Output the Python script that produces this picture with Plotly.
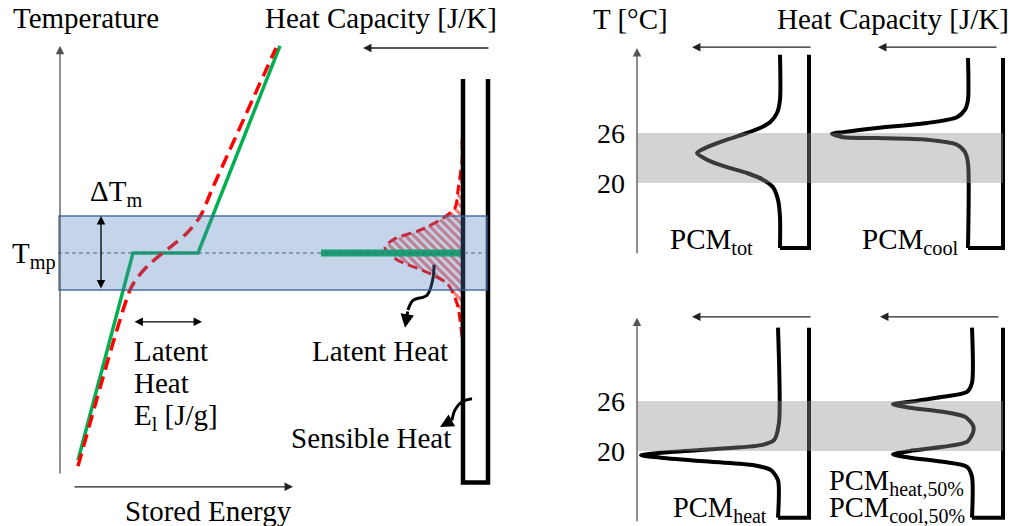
import plotly.graph_objects as go

W, H = 1011, 526
FONT = "Liberation Serif"

# ---------------- Panel A: temperature vs stored energy (arbitrary units, T_mp = 50)
ideal_E = [9, 36.5, 69, 110]
ideal_T = [22, 50, 50, 78]
real_E = [9, 35, 38.5, 44, 50, 57, 63.5, 70, 76.5, 108]
real_T = [21.2, 45, 46.6, 48.3, 49.7, 51.2, 52.7, 54.9, 58.9, 77.7]
T_mp = 50
band_T = [45, 55]
latent_E = [36.5, 71]

# ---------------- Panel B: heat capacity vs temperature (same temperature scale)
tubeB_C = [2.5, 2.5, 0, 0]
tubeB_T = [73.5, 19, 19, 73.5]
realB_C = [2.6, 2.6, 3.0, 3.3, 4.5, 6.8, 9.5, 10.3, 9.1, 6.1, 4.1, 3.5, 3.0, 2.6]
realB_T = [65.3, 62.6, 58.5, 56.1, 54.7, 53.1, 51.8, 50.7, 49.1, 47.4, 45.9, 44.6, 42.7, 38.6]
idealB_C = [16.7, 2.6]
latent_arrow_C = [5.4, 5.5, 6.1, 7.5, 8.0, 8.3]
latent_arrow_T = [48.4, 46.6, 44.3, 43.6, 42.3, 39.9]
sens_arrow_C = [1.6, 2.6, 3.3, 3.6, 4.8]
sens_arrow_T = [30.3, 29.9, 28.8, 27.4, 26.5]

# ---------------- Right panels: heat capacity profiles, T in degC
tot_T = [35.4, 30.0, 28.4, 27.3, 26.6, 26.0, 25.2, 24.3, 23.6, 22.8, 21.9, 21.2, 20.4, 19.5, 18.0, 15.9, 12.2]
tot_C = [2.9, 2.9, 3.2, 3.9, 4.9, 6.2, 8.2, 10.2, 11.2, 10.2, 8.2, 6.2, 4.6, 3.6, 3.1, 2.9, 2.9]
cool_T = [35.0, 30.0, 28.8, 27.9, 27.2, 26.6, 26.1, 25.9, 25.5, 25.4, 25.2, 24.6, 23.7, 22.4, 12.2]
cool_C = [3.5, 3.5, 3.8, 4.6, 7.6, 12.6, 16.0, 17.1, 16.0, 12.6, 7.6, 4.6, 3.8, 3.5, 3.5]
heat_T = [34.8, 23.4, 21.3, 20.7, 20.2, 19.8, 19.5, 19.2, 18.7, 18.3, 17.7, 16.5, 12.0]
heat_C = [3.1, 3.0, 3.5, 4.8, 9.8, 14.8, 16.8, 14.8, 9.8, 5.5, 3.8, 3.1, 3.1]
half_T = [34.8, 28.2, 27.1, 26.5, 25.9, 25.6, 25.2, 24.7, 24.1, 23.1, 22.2, 21.1, 20.5, 20.0, 19.6, 19.2,
          18.7, 18.1, 16.9, 12.0]
half_C = [3.1, 3.1, 3.6, 6.0, 9.3, 11.0, 9.3, 6.0, 3.8, 3.0, 3.0, 3.6, 6.0, 9.3, 11.0, 9.3, 6.0, 3.6, 3.1, 3.1]
melt_range = [20, 26]
tick_vals = [20, 26]

GREEN = "#00b050"
RED = "#ff0000"

fig = go.Figure()

# Panel A
fig.add_trace(go.Scatter(x=ideal_E, y=ideal_T, mode="lines", xaxis="x", yaxis="y",
                         line=dict(color=GREEN, width=3.5)))
fig.add_trace(go.Scatter(x=real_E, y=real_T, mode="lines", xaxis="x", yaxis="y",
                         line=dict(color=RED, width=3.5, dash="13px,7px", shape="spline", smoothing=0.8)))

# Panel B
fill_x = realB_C + [2.5, 2.5]
fill_y = realB_T + [realB_T[-1], realB_T[0]]
fig.add_trace(go.Scatter(x=fill_x, y=fill_y, mode="lines", xaxis="x2", yaxis="y", fill="toself",
                         fillcolor="rgba(0,0,0,0)", line=dict(width=0),
                         fillpattern=dict(shape="\\", fgcolor="#ee0000", bgcolor="rgba(0,0,0,0)",
                                          size=6, solidity=0.55)))
fig.add_trace(go.Scatter(x=realB_C, y=realB_T, mode="lines", xaxis="x2", yaxis="y",
                         line=dict(color=RED, width=3, dash="10px,5px", shape="spline", smoothing=0.8)))
fig.add_trace(go.Scatter(x=idealB_C, y=[T_mp, T_mp], mode="lines", xaxis="x2", yaxis="y",
                         line=dict(color=GREEN, width=7)))
fig.add_trace(go.Scatter(x=tubeB_C, y=tubeB_T, mode="lines", xaxis="x2", yaxis="y",
                         line=dict(color="black", width=4.5)))
fig.add_trace(go.Scatter(x=latent_arrow_C[:-1], y=latent_arrow_T[:-1], mode="lines", xaxis="x2", yaxis="y",
                         line=dict(color="black", width=3, shape="spline")))
fig.add_trace(go.Scatter(x=sens_arrow_C[:-1], y=sens_arrow_T[:-1], mode="lines", xaxis="x2", yaxis="y",
                         line=dict(color="black", width=3, shape="spline")))

# Right panels: tubes
def tube(Cp, Tp, xa, ya):
    fig.add_trace(go.Scatter(x=Cp, y=Tp, mode="lines", xaxis=xa, yaxis=ya,
                             line=dict(color="black", width=4, shape="spline", smoothing=0.7)))
    fig.add_trace(go.Scatter(x=[Cp[-1], 0, 0], y=[Tp[-1], Tp[-1], Tp[0]], mode="lines", xaxis=xa, yaxis=ya,
                             line=dict(color="black", width=4)))

tube(tot_C, tot_T, "x3", "y3")
tube(cool_C, cool_T, "x4", "y3")
tube(heat_C, heat_T, "x3", "y4")
tube(half_C, half_T, "x4", "y4")

def px(x):
    return x / W

def py(y):
    return 1 - y / H

shapes = [
    dict(type="line", xref="paper", yref="y", x0=px(58), x1=px(487), y0=T_mp, y1=T_mp,
         line=dict(color="#44546a", width=1, dash="4px,3px"), layer="above"),
    dict(type="rect", xref="paper", yref="y", x0=px(59), x1=px(487), y0=band_T[0], y1=band_T[1],
         fillcolor="rgba(79,129,189,0.33)", line=dict(color="rgba(60,100,155,0.9)", width=1.3), layer="above"),
    dict(type="rect", xref="paper", yref="y3", x0=px(637), x1=px(1003), y0=melt_range[0], y1=melt_range[1],
         fillcolor="rgba(146,146,146,0.4)", line=dict(width=0), layer="above"),
    dict(type="rect", xref="paper", yref="y4", x0=px(637), x1=px(1003), y0=melt_range[0], y1=melt_range[1],
         fillcolor="rgba(146,146,146,0.4)", line=dict(width=0), layer="above"),
]

ann = []

def arrow(x, y, ax, ay, xref, yref, both=False, width=1.3, size=1.3, color="black", head=2):
    ann.append(dict(x=x, y=y, ax=ax, ay=ay, xref=xref, yref=yref, axref=xref, ayref=yref,
                    showarrow=True, text="", arrowhead=head, arrowsize=size, arrowwidth=width,
                    arrowcolor=color, arrowside="end+start" if both else "end",
                    startarrowhead=head, startarrowsize=size, standoff=0, startstandoff=0))

# axis arrows
arrow(0, 78, 0, 20, "x", "y", color="#555555", width=1.3)
arrow(116.5, 18.4, 6.5, 18.4, "x", "y", color="#222222", width=1.3)
arrow(12.5, 77.7, -0.2, 77.7, "x2", "y", color="#222222", width=1.3)
arrow(20.5, band_T[1], 20.5, band_T[0], "x", "y", both=True, width=1.3)
arrow(latent_E[1], 40.7, latent_E[0], 40.7, "x", "y", both=True, width=1.3)
arrow(latent_arrow_C[-1], latent_arrow_T[-1], latent_arrow_C[-2], latent_arrow_T[-2], "x2", "y",
      width=3, size=0.9)
arrow(sens_arrow_C[-1], sens_arrow_T[-1], sens_arrow_C[-2], sens_arrow_T[-2], "x2", "y",
      width=3, size=0.9)
arrow(17.2, 36.2, 17.2, 11.4, "x3", "y3", color="#555555")
arrow(17.2, 36.0, 17.2, 11.4, "x3", "y4", color="#555555")
arrow(11.7, 36.3, -0.3, 36.3, "x3", "y3", color="#222222")
arrow(12.5, 36.3, 0.5, 36.3, "x4", "y3", color="#222222")
arrow(11.7, 36.1, -0.3, 36.1, "x3", "y4", color="#222222")
arrow(12.3, 36.1, 0.3, 36.1, "x4", "y4", color="#222222")

def txt(s, x, y, size=29, xanchor="left"):
    ann.append(dict(text=s, x=px(x), y=py(y), xref="paper", yref="paper", showarrow=False,
                    xanchor=xanchor, yanchor="middle", font=dict(family=FONT, size=size, color="black")))

txt("Temperature", 11, 18)
txt("Heat Capacity [J/K]", 263, 18)
txt("ΔT<sub>m</sub>", 88, 193)
txt("T<sub>mp</sub>", 10, 256)
txt("Latent", 132, 351)
txt("Heat", 132, 383)
txt("E<sub>l</sub> [J/g]", 132, 417)
txt("Stored Energy", 123, 511)
txt("Latent Heat", 310, 351)
txt("Sensible Heat", 289, 438)
txt("T [°C]", 591, 19)
txt("Heat Capacity [J/K]", 775, 19)
txt("PCM<sub>tot</sub>", 668, 241)
txt("PCM<sub>cool</sub>", 860, 241)
txt("PCM<sub>heat</sub>", 671, 509, size=28.5)
txt("PCM<sub>heat,50%</sub>", 827, 482, size=28.5)
txt("PCM<sub>cool,50%</sub>", 827, 509, size=28.5)

for ya in ["y3", "y4"]:
    for v in tick_vals:
        ann.append(dict(text=str(v), x=px(627), y=v, xref="paper", yref=ya, showarrow=False,
                        xanchor="right", yanchor="middle", font=dict(family=FONT, size=28, color="black")))

def lin(p0, v0, scale, reverse=False):
    # range of an axis spanning the full figure, given pixel p0 -> value v0 and px per unit
    if reverse:
        return [v0 + p0 / scale, v0 - (W - p0) / scale]
    return [v0 - p0 / scale, v0 + (W - p0) / scale]

def ylin(p0, v0, scale):
    return [v0 - (H - p0) / scale, v0 + p0 / scale]

hid = dict(visible=False, showgrid=False, zeroline=False, autorange=False, fixedrange=True)
fig.update_layout(
    width=W, height=H, margin=dict(l=0, r=0, t=0, b=0),
    paper_bgcolor="white", plot_bgcolor="white", showlegend=False,
    xaxis=dict(domain=[0, 1], range=lin(60, 0, 2.0), **hid),
    yaxis=dict(domain=[0, 1], range=ylin(253, 50, 7.4), **hid),
    xaxis2=dict(overlaying="x", anchor="y", range=lin(488, 0, 10, reverse=True), **hid),
    xaxis3=dict(overlaying="x", anchor="y", range=lin(809, 0, 10, reverse=True), **hid),
    xaxis4=dict(overlaying="x", anchor="y", range=lin(1003, 0, 10, reverse=True), **hid),
    yaxis3=dict(overlaying="y", anchor="x", range=ylin(133, 26, 50 / 6), **hid),
    yaxis4=dict(overlaying="y", anchor="x", range=ylin(401, 26, 50 / 6), **hid),
    shapes=shapes, annotations=ann,
)

fig.write_html("out.html")
